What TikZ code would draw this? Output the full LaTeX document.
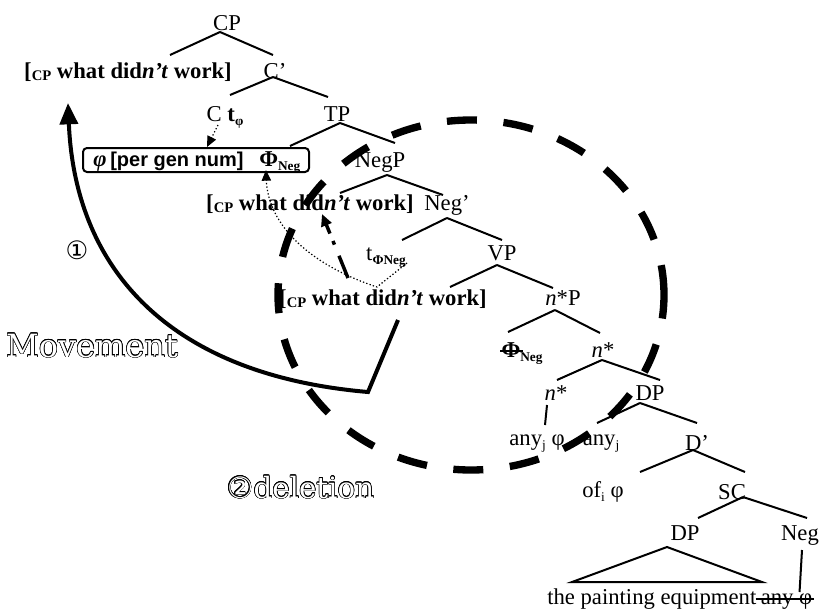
\documentclass[tikz,border=0pt]{standalone}
\usepackage{fontspec}
\setmainfont{Liberation Serif}
\newfontfamily\featfont{Liberation Sans}
\newfontfamily\outlinefont{DejaVu Serif}
\newfontfamily\circfont{DejaVu Sans}
\usepackage{contour}
\contourlength{0.45pt}
\usetikzlibrary{arrows.meta}

% bold specifier [CP what didn't work]
\newcommand\cpsub{{\fontsize{11}{11}\selectfont\raisebox{-2pt}{CP}}}
\newcommand\whatspec{\textbf{[\cpsub\ what did\textit{n’t} work]}}
% small lowered index
\newcommand\lowsub[1]{\raisebox{-3.5pt}{\fontsize{10}{10}\selectfont #1}}
% tree branch between two labels, each end shifted from the label's base point
\newcommand\tedge[4]{\draw[branch] ([shift={#2}]#1.base) -- ([shift={#4}]#3.base);}

\begin{document}
\begin{tikzpicture}[x=0.75pt,y=-0.75pt,
  font=\fontsize{17}{20}\selectfont,
  lbl/.style={anchor=base, inner sep=0pt},
  branch/.style={line width=1.5pt},
  tracer/.style={line width=0.9pt, dash pattern=on 1pt off 1.6pt,
    -{Triangle[length=8pt,width=7pt]}},
  hop/.style={line width=2.6pt, dash pattern=on 18pt off 9pt on 3pt off 6pt,
    -{Triangle[length=9pt,width=8pt]}},
  movearrow/.style={line width=3pt, line join=miter,
    -{Triangle[length=16pt,width=13.5pt]}},
  region/.style={line width=5.5pt, dash pattern=on 22.5pt off 20pt},
  strike/.style={line width=1pt}]
\useasboundingbox (0,0) rectangle (820,614);

% ---- tree labels ----
\node[lbl] (cp) at (227,30) {CP};
\node[lbl] (spec1) at (128,78) {\whatspec};
\node[lbl] (cbar) at (275,78) {C’};
\node[lbl] (ct) at (225,121) {C \textbf{t}\lowsub{\textbf{φ}}};
\node[lbl] (tp) at (337,121) {TP};

\node[draw, rounded corners=3pt, line width=1.5pt, minimum width=169.5pt,
      minimum height=18pt, inner sep=0pt] (box) at (196,160) {};
\node[lbl, anchor=base west] (boxphi) at (93,166) {\textbf{\textit{φ}}};
\node[lbl, anchor=base west] (boxfeat) at (110,166)
  {\featfont\bfseries\fontsize{15}{15}\selectfont [per gen num]};
\node[lbl, anchor=base west] (boxPhi) at (259,166) {\textbf{Φ}\lowsub{\textbf{Neg}}};

\node[lbl] (negp) at (380,167) {NegP};
\node[lbl] (spec2) at (310,210) {\whatspec};
\node[lbl] (negbar) at (447,210) {Neg’};
\node[lbl] (tneg) at (386,260) {t\lowsub{\textbf{ΦNeg}}};
\node[lbl] (vp) at (502,260) {VP};
\node[lbl] (spec3) at (383,305) {\whatspec};
\node[lbl] (nstarp) at (563,305) {\textit{n}*P};
\node[lbl] (phineg) at (522,357) {\textbf{Φ}\lowsub{\textbf{Neg}}};
\node[lbl] (nstar) at (603,357) {\textit{n}*};
\node[lbl] (nstarlow) at (556,400) {\textit{n}*};
\node[lbl] (dp) at (650,400) {DP};
\node[lbl] (anyphi) at (537,445) {any\lowsub{j} φ};
\node[lbl] (anyj) at (601,445) {any\lowsub{j}};
\node[lbl] (dbar) at (697,450) {D’};
\node[lbl] (ofphi) at (603,497) {of\lowsub{i} φ};
\node[lbl] (sc) at (732,499) {SC};
\node[lbl] (dpb) at (685,540) {DP};
\node[lbl] (neg) at (800,540) {Neg};
\node[lbl, anchor=base west] (equip) at (547,604) {the painting equipment};
\node[lbl, anchor=base west] (anyterm) at ([xshift=3pt]equip.base east) {any φ};

% ---- branches ----
\tedge{cp}{(-7,2)}{spec1}{(42,-23)}
\tedge{cp}{(-7,2)}{cbar}{(-2,-23)}
\tedge{cbar}{(-2,-1)}{ct}{(5,-26)}
\tedge{cbar}{(-2,-1)}{tp}{(-9,-24)}
\draw[branch] ([shift={(3,2)}]tp.base) -- ([shift={(94,-1)}]box.north);
\tedge{tp}{(3,2)}{negp}{(15,-24)}
\tedge{negp}{(7,8)}{spec2}{(30,-17)}
\tedge{negp}{(7,8)}{negbar}{(-4,-15)}
\tedge{negbar}{(0,8)}{tneg}{(16,-20)}
\tedge{negbar}{(0,8)}{vp}{(0,-20)}
\tedge{vp}{(-5,5)}{spec3}{(67,-18)}
\tedge{vp}{(-5,5)}{nstarp}{(-10,-17)}
\tedge{nstarp}{(-8,5)}{phineg}{(-14,-25)}
\tedge{nstarp}{(-8,5)}{nstar}{(-3,-24)}
\tedge{nstar}{(-1,3)}{nstarlow}{(1,-20)}
\tedge{nstar}{(-1,3)}{dp}{(10,-20)}
\tedge{nstarlow}{(-9,5)}{anyphi}{(8,-20)}
\tedge{dp}{(-10,3)}{anyj}{(-4,-22)}
\tedge{dp}{(-10,3)}{dbar}{(0,-27)}
\tedge{dbar}{(-4,0)}{ofphi}{(37,-25)}
\tedge{dbar}{(-4,0)}{sc}{(13,-27)}
\tedge{sc}{(11,-2)}{dpb}{(13,-22)}
\tedge{sc}{(11,-2)}{neg}{(7,-22)}
\draw[branch] ([shift={(-18,7)}]dpb.base) -- ([shift={(-113,42)}]dpb.base)
  -- ([shift={(77,42)}]dpb.base) -- cycle;
\draw[branch] ([shift={(2,10)}]neg.base) -- ([shift={(-13,-12)}]anyterm.base east);

% ---- deleted material ----
\draw[strike] ([shift={(-5,-5)}]anyterm.base west) -- ([shift={(1,-5)}]anyterm.base east);
\draw[strike] ([shift={(-1,-6)}]phineg.base west) -- ([shift={(22,-6)}]phineg.base west);

% ---- feature-checking paths ----
\draw[tracer] ([shift={(-7,4)}]ct.base) -- ([shift={(11,0)}]box.north);
\draw[tracer] ([shift={(21,3)}]tneg.base) -- ([shift={(-6,-18)}]spec3.base)
  .. controls (310,265) and (268,225) .. ([shift={(70,-3)}]box.south);
\draw[hop] ([shift={(-35,-27)}]spec3.base) -- ([shift={(12,4)}]spec2.base);

% ---- movement of the specifier ----
\coordinate (bend) at (368,392);
\draw[movearrow] ([shift={(15,15)}]spec3.base) -- (bend)
  .. controls (170,375) and (75,270) .. ([shift={(-60,25)}]spec1.base);

% ---- deletion domain ----
\draw[region] (471,295) ellipse [x radius=144.75pt, y radius=131.25pt];

% ---- step labels ----
\node[inner sep=0pt, font=\circfont\fontsize{19}{19}\selectfont] (one) at (77,250) {①};
\node[lbl] (movelabel) at (92,357)
  {\outlinefont\fontsize{24}{24}\selectfont\color{white}\contour{black}{Movement}};
\node[lbl, anchor=base west] (dellabel) at (227,498)
  {\fontsize{22}{22}\selectfont\color{white}\contour{black}{{\circfont ②}\outlinefont deletion}};
\end{tikzpicture}
\end{document}
